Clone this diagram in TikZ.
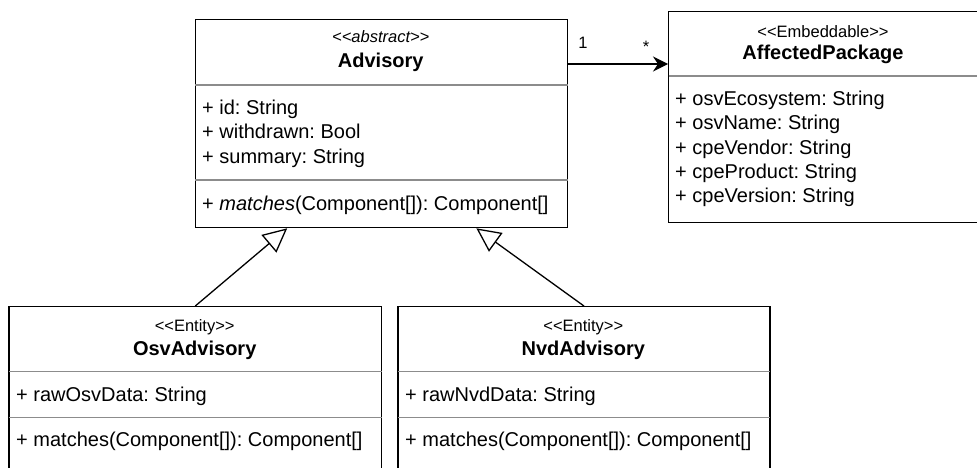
\documentclass[tikz,border=0pt]{standalone}
\usepackage{fontspec}
\setmainfont{Liberation Sans}
\usetikzlibrary{arrows.meta,calc}
% guillemet-free stereotype brackets
\newcommand\stereo[1]{<\kern0pt<#1>\kern0pt>}
\frenchspacing

\begin{document}
\begin{tikzpicture}[x=1pt,y=-1pt,
  classbox/.style={draw=black, line width=1.3pt, anchor=north west, inner sep=0pt},
  sepline/.style={draw=black!45, line width=1.3pt},
  attr/.style={anchor=base west, inner sep=0pt, font=\fontsize{20}{24}\selectfont},
  stereotype/.style={anchor=base, inner sep=0pt, font=\fontsize{16.5}{20}\selectfont},
  classname/.style={anchor=base, inner sep=0pt, font=\fontsize{20}{24}\selectfont\bfseries},
  mult/.style={anchor=base, inner sep=0pt, font=\fontsize{16.5}{20}\selectfont},
  assoc/.style={draw=black, line width=1.3pt, -{Stealth[length=15pt,width=15pt,inset=5pt]}},
  generalize/.style={draw=black, line width=1.3pt, -{Triangle[open,length=24pt,width=23pt,fill=white]}}
]
\useasboundingbox (0,0) rectangle (977,468);
\clip (0,0) rectangle (977,468);

% class frames
\node[classbox, minimum width=372.5pt, minimum height=208pt] (adv) at (194.5,19) {};
\node[classbox, minimum width=340pt, minimum height=211pt] (ap) at (668,11) {};
\node[classbox, minimum width=372.7pt, minimum height=190pt] (osv) at (8.3,306) {};
\node[classbox, minimum width=372pt, minimum height=190pt] (nvd) at (397.3,306) {};

% compartment separators
\draw[sepline] ([xshift=0.65pt]adv.west |- 0,85) -- ([xshift=-0.65pt]adv.east |- 0,85);
\draw[sepline] ([xshift=0.65pt]adv.west |- 0,180) -- ([xshift=-0.65pt]adv.east |- 0,180);
\draw[sepline] ([xshift=0.65pt]ap.west |- 0,76) -- ([xshift=-0.65pt]ap.east |- 0,76);
\draw[sepline] ([xshift=0.65pt]osv.west |- 0,371.7) -- ([xshift=-0.65pt]osv.east |- 0,371.7);
\draw[sepline] ([xshift=0.65pt]osv.west |- 0,417.7) -- ([xshift=-0.65pt]osv.east |- 0,417.7);
\draw[sepline] ([xshift=0.65pt]nvd.west |- 0,371.7) -- ([xshift=-0.65pt]nvd.east |- 0,371.7);
\draw[sepline] ([xshift=0.65pt]nvd.west |- 0,417.7) -- ([xshift=-0.65pt]nvd.east |- 0,417.7);

% Advisory
\node[stereotype] (advst) at (380.75,42.7) {\itshape\stereo{abstract}};
\node[classname] (advname) at (380.75,68) {Advisory};
\node[attr] (adva1) at (202,115) {+ id: String};
\node[attr] (adva2) at (202,138.5) {+ withdrawn: Bool};
\node[attr] (adva3) at (202,163.5) {+ summary: String};
\node[attr] (advm1) at (202,210) {+ \textit{matches}(Component[]): Component[]};

% AffectedPackage
\node[stereotype] (apst) at (823,37.3) {\stereo{Embeddable}};
\node[classname] (apname) at (823,59.3) {AffectedPackage};
\node[attr] (apa1) at (675,106) {+ osvEcosystem: String};
\node[attr] (apa2) at (675,130) {+ osvName: String};
\node[attr] (apa3) at (675,154.5) {+ cpeVendor: String};
\node[attr] (apa4) at (675,178.5) {+ cpeProduct: String};
\node[attr] (apa5) at (675,202) {+ cpeVersion: String};

% OsvAdvisory
\node[stereotype] (osvst) at (194.7,331) {\stereo{Entity}};
\node[classname] (osvname) at (194.7,355) {OsvAdvisory};
\node[attr] (osva1) at (16,401.7) {+ rawOsvData: String};
\node[attr] (osvm1) at (16,446.7) {+ matches(Component[]): Component[]};

% NvdAdvisory
\node[stereotype] (nvdst) at (583.3,331) {\stereo{Entity}};
\node[classname] (nvdname) at (583.3,355) {NvdAdvisory};
\node[attr] (nvda1) at (405,401.7) {+ rawNvdData: String};
\node[attr] (nvdm1) at (405,446.7) {+ matches(Component[]): Component[]};

% association Advisory -> AffectedPackage
\draw[assoc] (adv.east |- 0,64) -- (ap.west |- 0,64);
\node[mult] (m1) at (583,49) {1};
\node[mult] (m2) at (646,53) {*};

% generalizations
\coordinate (genl) at ($(adv.south west)!0.248!(adv.south east)$);
\coordinate (genr) at ($(adv.south west)!0.754!(adv.south east)$);
\draw[generalize] (osv.north) -- (genl);
\draw[generalize] (nvd.north) -- (genr);
\end{tikzpicture}
\end{document}
